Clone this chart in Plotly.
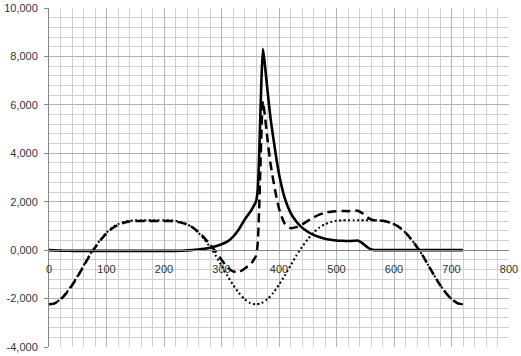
import plotly.graph_objects as go

# ---- data ----
# crank angle grid shared by the gas-force and total-force series
angle = [0, 10, 20, 30, 40, 50, 60, 70, 80, 90, 100, 110, 120, 130, 140, 150, 160, 170,
         180, 190, 200, 210, 220, 230, 240, 250, 260, 270, 280, 290, 300, 310, 320, 330,
         340, 345, 350, 355, 360, 363, 366, 369, 372, 375, 380, 385, 390, 395, 400, 405,
         410, 420, 430, 440, 450, 460, 470, 480, 490, 500, 510, 520, 530, 537, 545, 550,
         555, 560, 565, 570, 580, 590, 600, 610, 620, 630, 640, 650, 660, 670, 680, 690,
         700, 710, 720]

# solid line
gas_force = [0, -10, -20, -25, -30, -30, -30, -30, -30, -30, -30, -30, -30, -30, -30, -30,
             -30, -30, -30, -30, -30, -30, -30, -25, -10, 5, 30, 60, 100, 160, 240, 350, 550,
             850, 1250, 1420, 1580, 1780, 2000, 2500, 4300, 6700, 8300, 7750, 6600, 5500,
             4650, 3850, 3150, 2600, 2150, 1550, 1180, 930, 760, 630, 540, 470, 430, 400,
             385, 375, 385, 400, 290, 190, 100, 35, 0, 0, 0, 0, 0, 0, 0, 0, 0, 0, 0, 0, 0,
             0, 0, 0, 0]

# dashed line
total_force = [-2240, -2195, -2040, -1785, -1460, -1080, -670, -260, 100, 420, 690, 900,
               1040, 1130, 1180, 1200, 1205, 1202, 1200, 1202, 1205, 1200, 1180, 1135,
               1060, 935, 750, 510, 230, -70, -400, -700, -880, -910, -770, -680, -605,
               -435, -240, 275, 2093, 4510, 6150, 5650, 4580, 3610, 2890, 2255, 1720, 1360,
               1100, 910, 950, 1060, 1210, 1350, 1470, 1540, 1590, 1610, 1615, 1610, 1617,
               1630, 1522, 1422, 1334, 1270, 1232, 1230, 1210, 1160, 1070, 930, 720, 450,
               130, -230, -640, -1050, -1430, -1760, -2020, -2185, -2240]

# dotted line
inertia_angle = list(range(0, 721, 10))
inertia_force = [-2240, -2185, -2020, -1760, -1430, -1050, -640, -230, 130, 450, 720, 930,
                 1070, 1160, 1210, 1230, 1235, 1232, 1230, 1232, 1235, 1230, 1210, 1160,
                 1070, 930, 720, 450, 130, -230, -640, -1050, -1430, -1760, -2020, -2185,
                 -2240, -2185, -2020, -1760, -1430, -1050, -640, -230, 130, 450, 720, 930,
                 1070, 1160, 1210, 1230, 1235, 1232, 1230, 1232, 1235, 1230, 1210, 1160,
                 1070, 930, 720, 450, 130, -230, -640, -1050, -1430, -1760, -2020, -2185,
                 -2240]

y_ticks = [-4000, -2000, 0, 2000, 4000, 6000, 8000, 10000]
y_tick_text = ["-4,000", "-2,000", "0,000", "2,000", "4,000", "6,000", "8,000", "10,000"]
x_ticks = [0, 100, 200, 300, 400, 500, 600, 700, 800]
x_tick_text = ["0", "100", "200", "300", "400", "500", "600", "700", "800"]

fig = go.Figure()
fig.add_trace(go.Scatter(x=inertia_angle, y=inertia_force, mode="lines",
                         line=dict(color="black", width=2, dash="2px,2.5px",
                                   shape="spline", smoothing=0.6)))
fig.add_trace(go.Scatter(x=angle, y=total_force, mode="lines",
                         line=dict(color="black", width=2.5, dash="9px,5px",
                                   shape="spline", smoothing=0.6)))
fig.add_trace(go.Scatter(x=angle, y=gas_force, mode="lines",
                         line=dict(color="black", width=2.6,
                                   shape="spline", smoothing=0.6)))

font = dict(family="Liberation Sans, Arial, sans-serif", size=11, color="#333333")

fig.update_layout(
    width=521, height=356,
    margin=dict(l=49, r=12, t=8, b=9, autoexpand=False),
    paper_bgcolor="white", plot_bgcolor="white",
    showlegend=False,
    font=font,
    xaxis=dict(range=[0, 800], tickvals=x_ticks, ticktext=x_tick_text,
               showgrid=True, gridcolor="#b4b4b4", gridwidth=1,
               minor=dict(dtick=20, tick0=0, showgrid=True, gridcolor="#d0d0d0", gridwidth=1),
               zeroline=False, showline=True, linecolor="#868686", linewidth=1,
               anchor="free", position=4 / 14, ticks="", ticklabelstandoff=9,
               tickfont=font, automargin=False),
    yaxis=dict(range=[-4000, 10000], tickvals=y_ticks, ticktext=y_tick_text,
               showgrid=True, gridcolor="#b4b4b4", gridwidth=1,
               minor=dict(dtick=400, tick0=0, showgrid=True, gridcolor="#d0d0d0", gridwidth=1),
               zeroline=False, showline=True, linecolor="#868686", linewidth=1,
               ticks="outside", ticklen=4, tickcolor="#868686",
               ticklabelstandoff=4, tickfont=font, domain=[0, 1], automargin=False),
)

fig.write_html("out.html",
               config={"displayModeBar": False, "staticPlot": True},
               post_script="document.body.style.margin='0px';"
                           "document.body.style.overflow='hidden';")
